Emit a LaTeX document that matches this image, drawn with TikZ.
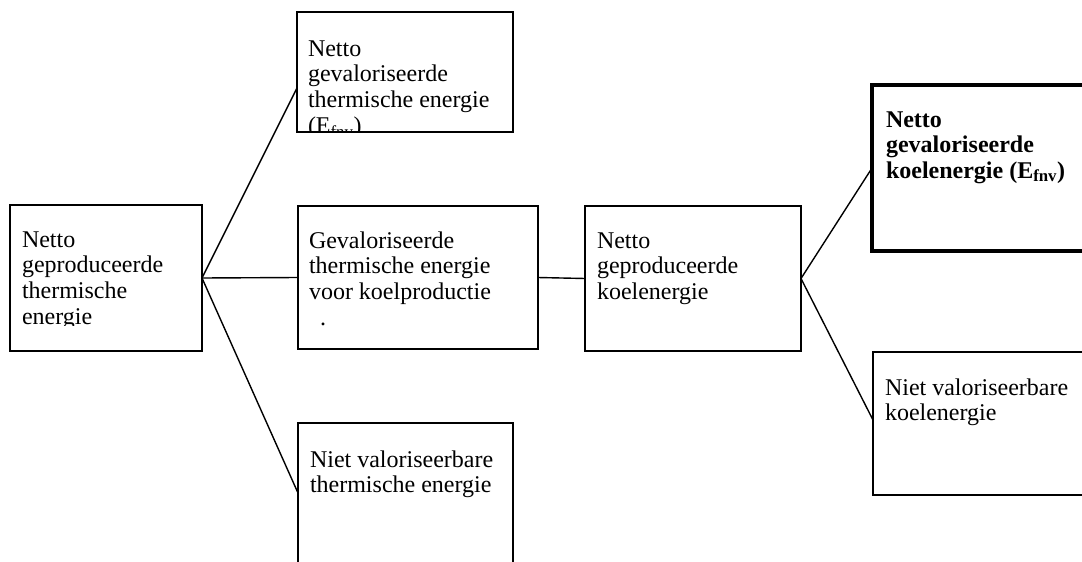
\documentclass[tikz,border=0pt]{standalone}
\usepackage{fontspec}
\setmainfont{Liberation Serif}
\usetikzlibrary{calc}
\newcommand{\fs}{\rule{0pt}{18pt}}
\begin{document}
\begin{tikzpicture}[x=1pt,y=-1pt,
  box/.style={draw, rectangle, line width=1.4pt, inner sep=0pt, outer sep=0pt},
  boldbox/.style={box, line width=4.5pt},
  link/.style={line width=1.4pt},
  txt/.style={anchor=north west, inner sep=0pt, outer sep=0pt, align=left,
              font=\fontsize{24}{25.8}\selectfont}]
\clip (0,0) rectangle (1082,562);
\fill[white] (0,0) rectangle (1082,562);

% boxes
\node[box, minimum width=192pt, minimum height=146pt] (src) at (106,278) {};
\node[box, minimum width=216pt, minimum height=120pt] (top) at (405,72) {};
\node[box, minimum width=240pt, minimum height=143pt] (mid) at (418,277.5) {};
\node[box, minimum width=215pt, minimum height=277pt] (bot) at (405.5,561.5) {};
\node[box, minimum width=216pt, minimum height=145pt] (koel) at (693,278.5) {};
\node[boldbox, minimum width=328pt, minimum height=166pt] (fnv) at (1036,168) {};
\node[box, minimum width=327pt, minimum height=143pt] (nvk) at (1036.5,423.5) {};

% connectors
\draw[link] (src.east) -- (top.west |- 0,88);
\draw[link] (src.east) -- (mid.west);
\draw[link] (src.east) -- (bot.west |- 0,493);
\draw[link] (mid.east) -- (koel.west);
\draw[link] (koel.east) -- (fnv.west |- 0,168);
\draw[link] (koel.east) -- (nvk.west |- 0,420);

% texts
\begin{scope}
\clip (src.north west) rectangle ($(src.south east)+(0,-26)$);
\node[txt] (tsrc) at (22,229) {\fs Netto\\geproduceerde\\thermische\\energie};
\end{scope}
\begin{scope}
\clip (top.north west) rectangle (top.south east);
\node[txt] (ttop) at (308,38) {\fs Netto\\gevaloriseerde\\thermische energie\\(E\textsubscript{fnv})};
\end{scope}
\node[txt] (tmid) at (309,230) {\fs Gevaloriseerde\\thermische energie\\voor koelproductie\\\hspace*{11pt}.};
\node[txt] (tkoel) at (597,230) {\fs Netto\\geproduceerde\\koelenergie};
\node[txt, font=\fontsize{24}{25.5}\selectfont\bfseries] (tfnv) at (886,109) {\fs Netto\\gevaloriseerde\\koelenergie (E\textsubscript{fnv})};
\node[txt, font=\fontsize{24}{25}\selectfont] (tnvk) at (885,377) {\fs Niet valoriseerbare\\koelenergie};
\node[txt, font=\fontsize{24}{25}\selectfont] (tbot) at (310,449) {\fs Niet valoriseerbare\\thermische energie};
\end{tikzpicture}
\end{document}
